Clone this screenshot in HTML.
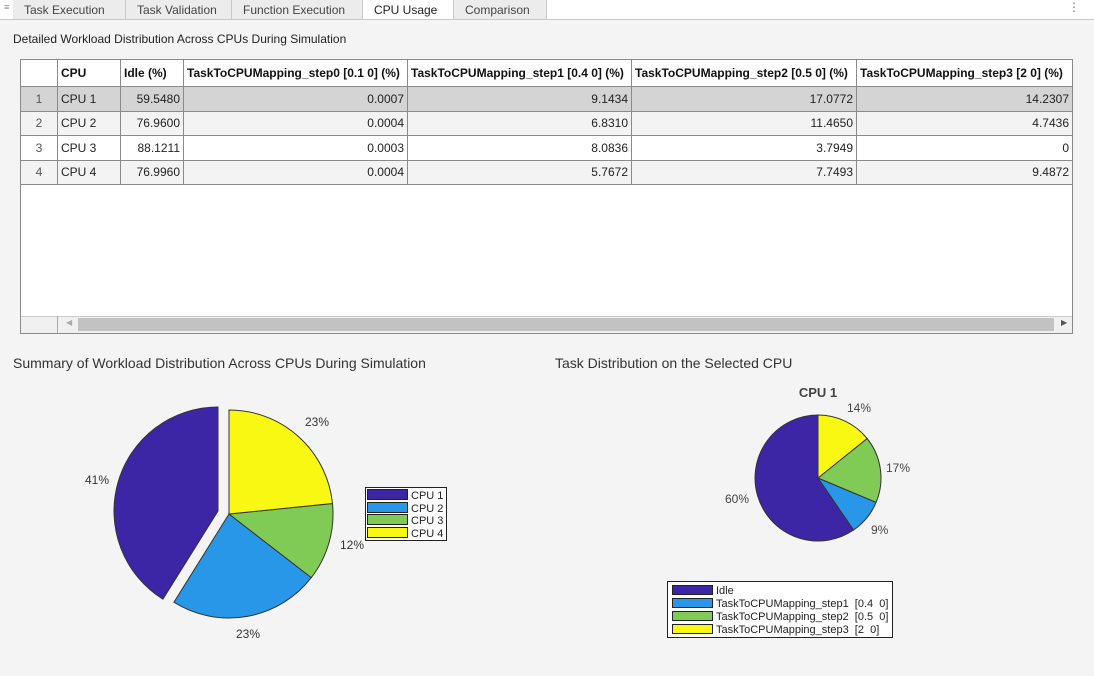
<!DOCTYPE html>
<html><head><style>
*{margin:0;padding:0;box-sizing:border-box}
body{width:1094px;height:676px;background:#f4f4f4;font-family:"Liberation Sans",Arial,sans-serif;position:relative;overflow:hidden;color:#222}
.tabbar{position:absolute;left:0;top:0;width:1094px;height:20px;background:#fff;border-bottom:1px solid #c8c8c8}
.tab{position:absolute;top:0;height:19px;background:#ececec;border-right:1px solid #c8c8c8;font-size:12px;color:#444;padding:3px 0 0 11px}
.tab.act{background:#fff;color:#222}
.t{position:absolute;white-space:nowrap}
table{position:absolute;left:20px;top:59px;border-collapse:collapse;font-size:12px;table-layout:fixed}
td,th{border:1px solid #8a8a8a;height:24.5px;padding:0 3px;white-space:nowrap;overflow:hidden}
th{text-align:left;font-weight:bold;height:27px;background:#fff;color:#111}
td{text-align:right}
td.l{text-align:left}
td.n{text-align:center;color:#555}
tr.s td{background:#d4d4d4}
tr.g td{background:#f3f3f3}
tr.w td{background:#fff}
</style></head><body>
<div class="tabbar">
<div class="t" style="left:4px;top:2px;font-size:9px;color:#888">≡</div>
<div class="tab" style="left:13px;width:113px">Task Execution</div>
<div class="tab" style="left:126px;width:106px">Task Validation</div>
<div class="tab" style="left:232px;width:131px">Function Execution</div>
<div class="tab act" style="left:363px;width:91px">CPU Usage</div>
<div class="tab" style="left:454px;width:93px">Comparison</div>
<div class="t" style="left:1068px;top:0px;font-size:12px;color:#777">⋮</div>
</div>
<div class="t" style="left:13px;top:32px;font-size:12px">Detailed Workload Distribution Across CPUs During Simulation</div>
<div style="position:absolute;left:20px;top:59px;width:1053px;height:275px;background:#fff;border:1px solid #8a8a8a"></div>
<table>
<colgroup><col style="width:37px"><col style="width:63px"><col style="width:63px"><col style="width:224px"><col style="width:224px"><col style="width:225px"><col style="width:216px"></colgroup>
<tr><th></th><th>CPU</th><th>Idle (%)</th><th>TaskToCPUMapping_step0 [0.1 0] (%)</th><th>TaskToCPUMapping_step1 [0.4 0] (%)</th><th>TaskToCPUMapping_step2 [0.5 0] (%)</th><th>TaskToCPUMapping_step3 [2 0] (%)</th></tr>
<tr class="s"><td class="n">1</td><td class="l">CPU 1</td><td>59.5480</td><td>0.0007</td><td>9.1434</td><td>17.0772</td><td>14.2307</td></tr>
<tr class="g"><td class="n">2</td><td class="l">CPU 2</td><td>76.9600</td><td>0.0004</td><td>6.8310</td><td>11.4650</td><td>4.7436</td></tr>
<tr class="w"><td class="n">3</td><td class="l">CPU 3</td><td>88.1211</td><td>0.0003</td><td>8.0836</td><td>3.7949</td><td>0</td></tr>
<tr class="g"><td class="n">4</td><td class="l">CPU 4</td><td>76.9960</td><td>0.0004</td><td>5.7672</td><td>7.7493</td><td>9.4872</td></tr>
</table>
<div style="position:absolute;left:21px;top:316px;width:1051px;height:17px;background:#f0f0f0;border-top:1px solid #ccc"></div>
<div style="position:absolute;left:57px;top:316px;width:1px;height:17px;background:#aaa"></div>
<div style="position:absolute;left:78px;top:318px;width:976px;height:13px;background:#c2c2c2"></div>
<div class="t" style="left:66px;top:318px;font-size:8px;color:#aaa">◀</div>
<div class="t" style="left:1061px;top:318px;font-size:8px;color:#555">▶</div>

<div class="t" style="left:13px;top:355px;font-size:14px;color:#333">Summary of Workload Distribution Across CPUs During Simulation</div>
<div class="t" style="left:555px;top:355px;font-size:14px;color:#333">Task Distribution on the Selected CPU</div>

<svg width="1094" height="676" style="position:absolute;left:0;top:0" font-family="Liberation Sans, Arial, sans-serif">
<g stroke="#333" stroke-width="1">
<path d="M218,511 L218,407 A104,104 0 0 0 162.9,599.2 Z" fill="#3c26a6"/>
<path d="M229,514 L173.9,602.2 A104,104 0 0 0 311.3,577.6 Z" fill="#2897e8"/>
<path d="M229,514 L311.3,577.6 A104,104 0 0 0 332.5,503.5 Z" fill="#7fcb55"/>
<path d="M229,514 L332.5,503.5 A104,104 0 0 0 229,410 Z" fill="#f8f812"/>
</g>
<g font-size="12" fill="#333">
<text x="85" y="484">41%</text><text x="305" y="426">23%</text><text x="340" y="549">12%</text><text x="236" y="638">23%</text>
</g>
<rect x="365.5" y="487.5" width="81" height="53" fill="#fff" stroke="#222"/>
<g stroke="#222" stroke-width="1">
<rect x="367.5" y="489.5" width="40" height="10" fill="#3c26a6"/>
<rect x="367.5" y="502.5" width="40" height="10" fill="#2897e8"/>
<rect x="367.5" y="514.5" width="40" height="10" fill="#7fcb55"/>
<rect x="367.5" y="527.5" width="40" height="10" fill="#f8f812"/>
</g>
<g font-size="11" fill="#222"><text x="411" y="499">CPU 1</text><text x="411" y="512">CPU 2</text><text x="411" y="524">CPU 3</text><text x="411" y="537">CPU 4</text></g>

<text x="818" y="397" font-size="13" font-weight="bold" fill="#444" text-anchor="middle">CPU 1</text>
<g stroke="#333" stroke-width="1">
<path d="M818,478 L818,415 A63,63 0 1 0 853.6,530 Z" fill="#3c26a6"/>
<path d="M818,478 L853.6,530 A63,63 0 0 0 876.1,502.3 Z" fill="#2897e8"/>
<path d="M818,478 L876.1,502.3 A63,63 0 0 0 867.1,438.5 Z" fill="#7fcb55"/>
<path d="M818,478 L867.1,438.5 A63,63 0 0 0 818,415 Z" fill="#f8f812"/>
</g>
<g font-size="12" fill="#444"><text x="847" y="412">14%</text><text x="886" y="472">17%</text><text x="871" y="534">9%</text><text x="725" y="503">60%</text></g>
<rect x="667.5" y="581.5" width="225" height="56" fill="#fff" stroke="#222"/>
<g stroke="#222" stroke-width="1">
<rect x="672.5" y="585.5" width="40" height="9" fill="#3c26a6"/>
<rect x="672.5" y="598.5" width="40" height="9" fill="#2897e8"/>
<rect x="672.5" y="611.5" width="40" height="9" fill="#7fcb55"/>
<rect x="672.5" y="624.5" width="40" height="9" fill="#f8f812"/>
</g>
<g font-size="11" fill="#222" style="white-space:pre"><text x="716" y="594">Idle</text><text x="716" y="607">TaskToCPUMapping_step1&#160; [0.4&#160; 0]</text><text x="716" y="620">TaskToCPUMapping_step2&#160; [0.5&#160; 0]</text><text x="716" y="633">TaskToCPUMapping_step3&#160; [2&#160; 0]</text></g>
</svg>
</body></html>
